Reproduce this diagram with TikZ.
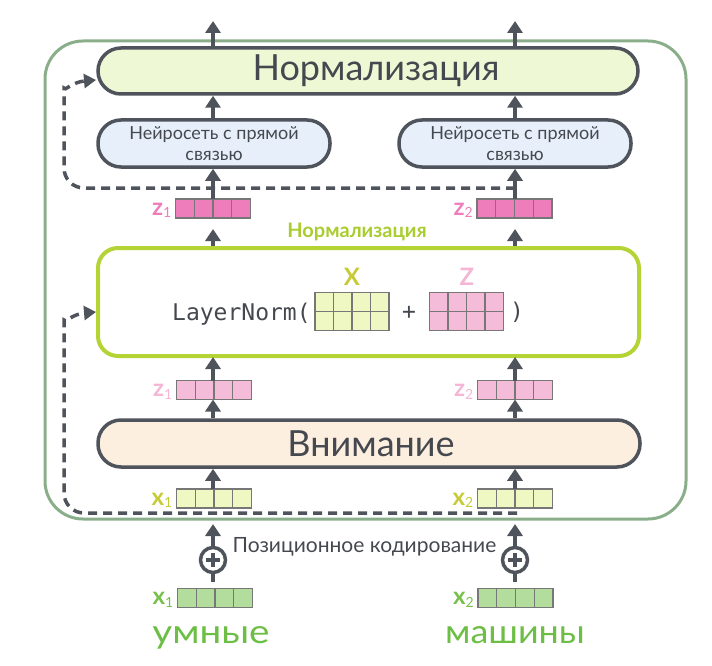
\documentclass[tikz,border=0pt]{standalone}
\usepackage{fontspec}
\setmainfont{Lato}
\setmonofont{DejaVu Sans Mono}
\usetikzlibrary{arrows.meta,calc}
\definecolor{cgray}{HTML}{4F545C}
\definecolor{ctext}{HTML}{45494F}
\definecolor{couter}{HTML}{8AAE8A}
\definecolor{normfill}{HTML}{EEF8D5}
\definecolor{ffnfill}{HTML}{E6EFFA}
\definecolor{attfill}{HTML}{FCEFE0}
\definecolor{lngreen}{HTML}{B4D334}
\definecolor{labgreen}{HTML}{A9CC2F}
\definecolor{zdark}{HTML}{EE7DBB}
\definecolor{zlight}{HTML}{F5BCD9}
\definecolor{zlab}{HTML}{F4B6D4}
\definecolor{xfill}{HTML}{EFF8C2}
\definecolor{xlab}{HTML}{C6CB35}
\definecolor{gfill}{HTML}{B3DD9C}
\definecolor{glab}{HTML}{77C14B}
\definecolor{cword}{HTML}{6DBE45}
\definecolor{cellb}{HTML}{777777}
\newcommand\cellvec[4]{%
  \node[vecn,fill=#4] (#1) at (#2,#3) {};
  \foreach \k in {1,2,3}{\draw[cellline] ($(#1.north west)!\k/4!(#1.north east)$) -- ($(#1.south west)!\k/4!(#1.south east)$);}
}
\newcommand\cellmat[4]{%
  \node[matn,fill=#4] (#1) at (#2,#3) {};
  \foreach \k in {1,2,3}{\draw[cellline] ($(#1.north west)!\k/4!(#1.north east)$) -- ($(#1.south west)!\k/4!(#1.south east)$);}
  \draw[cellline] (#1.west) -- (#1.east);
}
\newcommand\veclab[2]{{\fontsize{24}{24}\selectfont\bfseries #1}\raisebox{-2.5pt}{\fontsize{14}{14}\selectfont #2}}
\begin{document}
\begin{tikzpicture}[x=1pt,y=-1pt,
  arr/.style={line width=3.5pt, draw=cgray, -{Triangle[width=15pt,length=12pt]}},
  conn/.style={line width=3.5pt, draw=cgray},
  dasharr/.style={line width=3.5pt, draw=cgray, dash pattern=on 9pt off 6pt, -{Triangle[width=14pt,length=12pt]}},
  pill/.style={draw=cgray, line width=3.5pt, rounded corners=23pt, inner sep=0pt, text=ctext},
  vecn/.style={draw=cellb, line width=1.2pt, minimum width=75pt, minimum height=19pt, inner sep=0pt, outer sep=0pt},
  matn/.style={draw=cellb, line width=1.2pt, minimum width=74pt, minimum height=38pt, inner sep=0pt, outer sep=0pt},
  cellline/.style={draw=cellb, line width=1.2pt},
  lab/.style={inner sep=0pt},
  mono/.style={lab, text=ctext, font=\fontsize{23}{23}\selectfont\ttfamily},
]
\useasboundingbox (0,0) rectangle (712,666);
% outer container
\node[draw=couter, line width=3pt, rounded corners=38pt, minimum width=641pt, minimum height=478pt, inner sep=0pt] (outer) at (365.5,280) {};
% top normalisation
\node[pill, fill=normfill, minimum width=540pt, minimum height=46pt, font=\fontsize{36}{36}\selectfont] (norm) at (368,71) {\hspace*{16pt}Нормализация};
% feed-forward
\node[pill, fill=ffnfill, minimum width=232pt, minimum height=47pt, align=center, font=\fontsize{18}{21}\selectfont] (ffn1) at (214,143.5) {Нейросеть с прямой\\связью};
\node[pill, fill=ffnfill, minimum width=232pt, minimum height=47pt, align=center, font=\fontsize{18}{21}\selectfont] (ffn2) at (515,143.5) {Нейросеть с прямой\\связью};
% z vectors after norm
\cellvec{z1d}{213}{208.5}{zdark}
\cellvec{z2d}{514.5}{208.5}{zdark}
\node[lab, text=zdark, anchor=base east] (z1dl) at ($(z1d.south west)+(-4,-3)$) {\veclab{z}{1}};
\node[lab, text=zdark, anchor=base east] (z2dl) at ($(z2d.south west)+(-4,-3)$) {\veclab{z}{2}};
% layernorm box
\node[lab, text=labgreen, font=\fontsize{20}{20}\selectfont\bfseries] (normlab) at (357,232) {Нормализация};
\node[draw=lngreen, line width=4pt, rounded corners=20pt, minimum width=541pt, minimum height=108pt, inner sep=0pt, fill=white] (ln) at (368.5,302) {};
\node[mono, anchor=base west] (lntext) at (172,320) {LayerNorm(};
\cellmat{Xm}{352}{311.5}{xfill}
\cellmat{Zm}{466.5}{311.5}{zlight}
\node[lab, text=xlab, font=\fontsize{24}{24}\selectfont\bfseries] (Xl) at (352,277) {X};
\node[lab, text=zlab, font=\fontsize{24}{24}\selectfont\bfseries] (Zl) at (467,277) {Z};
\node[mono] (plus) at (409,313) {+};
\node[mono] (rpar) at (517,312) {)};
% z vectors after attention
\cellvec{z1l}{214}{390}{zlight}
\cellvec{z2l}{515}{390}{zlight}
\node[lab, text=zlab, anchor=base east] (z1ll) at ($(z1l.south west)+(-4,-3)$) {\veclab{z}{1}};
\node[lab, text=zlab, anchor=base east] (z2ll) at ($(z2l.south west)+(-4,-3)$) {\veclab{z}{2}};
% attention
\node[pill, fill=attfill, minimum width=542pt, minimum height=47pt, font=\fontsize{36}{36}\selectfont] (att) at (369,443.5) {\hspace*{4pt}Внимание};
% x vectors
\cellvec{x1}{214}{498.5}{xfill}
\cellvec{x2}{515}{498.5}{xfill}
\node[lab, text=xlab, anchor=base east] (x1l) at ($(x1.south west)+(-4,-3)$) {\veclab{x}{1}};
\node[lab, text=xlab, anchor=base east] (x2l) at ($(x2.south west)+(-4,-3)$) {\veclab{x}{2}};
% positional encoding
\node[draw=cgray, line width=3.5pt, circle, minimum size=25pt, inner sep=0pt] (p1) at (213,560) {};
\node[draw=cgray, line width=3.5pt, circle, minimum size=25pt, inner sep=0pt] (p2) at (515,560) {};
\foreach \p in {p1,p2}{
  \draw[conn, line width=3.8pt] ($(\p)+(-7,0)$) -- ($(\p)+(7,0)$);
  \draw[conn, line width=3.8pt] ($(\p)+(0,-7)$) -- ($(\p)+(0,7)$);
}
\node[lab, anchor=base, text=ctext, font=\fontsize{21}{21}\selectfont] (pos) at (364.5,552) {Позиционное кодирование};
\cellvec{g1}{215}{598}{gfill}
\cellvec{g2}{515.5}{598}{gfill}
\node[lab, text=glab, anchor=base east] (g1l) at ($(g1.south west)+(-4,-3)$) {\veclab{x}{1}};
\node[lab, text=glab, anchor=base east] (g2l) at ($(g2.south west)+(-4,-3)$) {\veclab{x}{2}};
\node[lab, anchor=base, text=cword, font=\fontsize{33}{33}\selectfont] (w1) at (211,643) {\scalebox{1.17}[1]{умные}};
\node[lab, anchor=base, text=cword, font=\fontsize{33}{33}\selectfont] (w2) at (515,643) {\scalebox{1.09}[1]{машины}};
% free-end coordinates
\coordinate (outL) at (213,21);
\coordinate (outR) at (515,21);
\coordinate (lnoutL) at (213,229);
\coordinate (lnoutR) at (515,229);
\coordinate (posL) at (213,524);
\coordinate (posR) at (515,524);
\coordinate (stemL) at (213,582);
\coordinate (stemR) at (515,582);
\coordinate (resTs) at (515,188);
\coordinate (resBs) at (517,513);
\coordinate (normIn) at (96,80);
\coordinate (lnIn) at (96,312);
% arrows
\draw[arr] (norm.north -| outL) -- (outL);
\draw[arr] (norm.north -| outR) -- (outR);
\draw[arr] (ffn1.north -| outL) -- (norm.south -| outL);
\draw[arr] (ffn2.north -| outR) -- (norm.south -| outR);
\draw[arr] (z1d.north -| outL) -- (ffn1.south -| outL);
\draw[arr] (z2d.north -| outR) -- (ffn2.south -| outR);
\draw[arr] (ln.north -| lnoutL) -- (lnoutL);
\draw[arr] (ln.north -| lnoutR) -- (lnoutR);
\draw[arr] (z1l.north -| outL) -- ($(ln.south -| outL)+(0,-1)$);
\draw[arr] (z2l.north -| outR) -- ($(ln.south -| outR)+(0,-1)$);
\draw[arr] (att.north -| outL) -- (z1l.south -| outL);
\draw[arr] (att.north -| outR) -- (z2l.south -| outR);
\draw[arr] (x1.north -| outL) -- (att.south -| outL);
\draw[arr] (x2.north -| outR) -- (att.south -| outR);
\draw[arr] (p1.north) -- (posL);
\draw[arr] (p2.north) -- (posR);
\draw[conn] (p1.south) -- (stemL);
\draw[conn] (p2.south) -- (stemR);
% residual connections
\draw[dasharr, rounded corners=20pt] (resTs) -- (64,188) -- (64,108) .. controls (64,92) and (72,82) .. (normIn);
\draw[dasharr, rounded corners=20pt] (resBs) -- (64,513) -- (64,340) .. controls (64,324) and (72,314) .. (lnIn);
\end{tikzpicture}
\end{document}
